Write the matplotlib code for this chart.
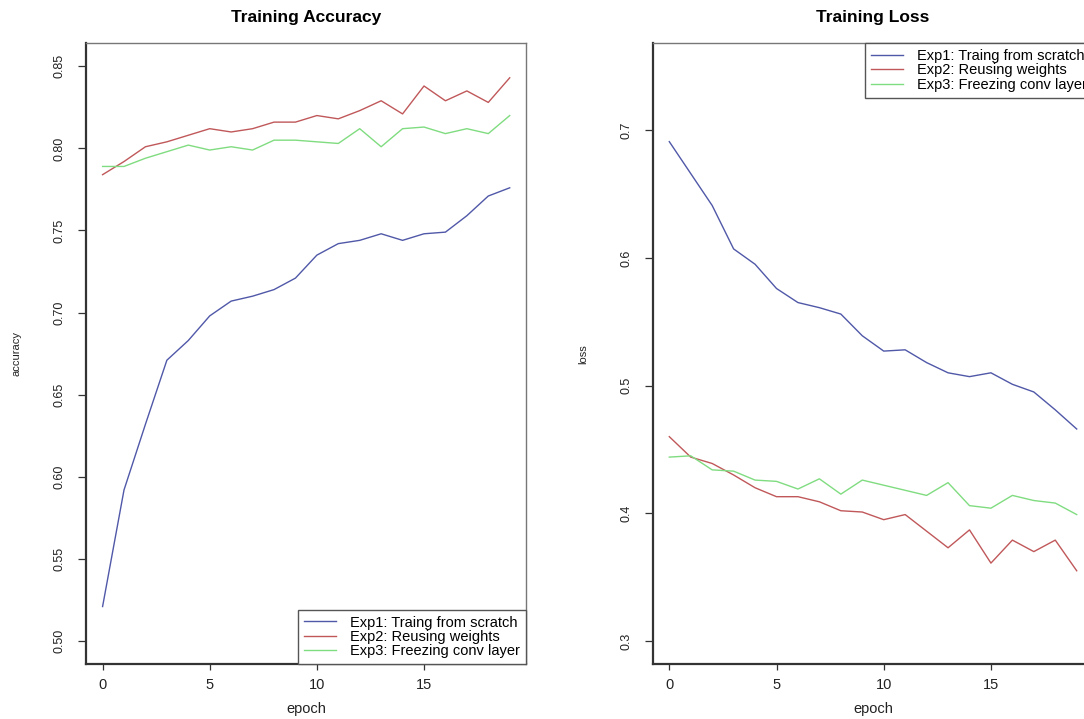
import matplotlib
matplotlib.use("Agg")
import matplotlib.pyplot as plt

plt.rcParams['font.family'] = ['Liberation Sans', 'DejaVu Sans']

# epochs 0..19
epochs = list(range(20))

series_labels = ["Exp1: Traing from scratch", "Exp2: Reusing weights", "Exp3: Freezing conv layer"]
series_colors = ["#5058a8", "#c0585a", "#80dc80"]

# training accuracy per experiment
acc_exp1 = [0.521, 0.592, 0.632, 0.671, 0.683, 0.698, 0.707, 0.710, 0.714, 0.721,
            0.735, 0.742, 0.744, 0.748, 0.744, 0.748, 0.749, 0.759, 0.771, 0.776]
acc_exp2 = [0.784, 0.792, 0.801, 0.804, 0.808, 0.812, 0.810, 0.812, 0.816, 0.816,
            0.820, 0.818, 0.823, 0.829, 0.821, 0.838, 0.829, 0.835, 0.828, 0.843]
acc_exp3 = [0.789, 0.789, 0.794, 0.798, 0.802, 0.799, 0.801, 0.799, 0.805, 0.805,
            0.804, 0.803, 0.812, 0.801, 0.812, 0.813, 0.809, 0.812, 0.809, 0.820]

# training loss per experiment
loss_exp1 = [0.691, 0.666, 0.641, 0.607, 0.595, 0.576, 0.565, 0.561, 0.556, 0.539,
             0.527, 0.528, 0.518, 0.510, 0.507, 0.510, 0.501, 0.495, 0.481, 0.466]
loss_exp2 = [0.460, 0.444, 0.439, 0.430, 0.420, 0.413, 0.413, 0.409, 0.402, 0.401,
             0.395, 0.399, 0.386, 0.373, 0.387, 0.361, 0.379, 0.370, 0.379, 0.355]
loss_exp3 = [0.444, 0.445, 0.434, 0.433, 0.426, 0.425, 0.419, 0.427, 0.415, 0.426,
             0.422, 0.418, 0.414, 0.424, 0.406, 0.404, 0.414, 0.410, 0.408, 0.399]

acc_ticks = [0.50, 0.55, 0.60, 0.65, 0.70, 0.75, 0.80, 0.85]
acc_ticklabels = ["0.50", "0.55", "0.60", "0.65", "0.70", "0.75", "0.80", "0.85"]
loss_ticks = [0.3, 0.4, 0.5, 0.6, 0.7]
loss_ticklabels = ["0.3", "0.4", "0.5", "0.6", "0.7"]
epoch_ticks = [0, 5, 10, 15]

W, H = 1084, 719
fig = plt.figure(figsize=(W / 100, H / 100), dpi=100)
fig.patch.set_facecolor("white")

# axes boxes in pixels (left, top, right, bottom); right panel runs past the crop
ax1 = fig.add_axes([86.3 / W, (H - 664) / H, (526 - 86.3) / W, (664 - 43.3) / H])
ax2 = fig.add_axes([653 / W, (H - 664) / H, (1093 - 653) / W, (664 - 43.3) / H])


def style_panel(ax, title, ylabel, yticks, yticklabels, ylim):
    ax.set_xlim(-0.76, 19.76)
    ax.set_ylim(*ylim)
    ax.set_xticks(epoch_ticks)
    ax.set_xticklabels([str(t) for t in epoch_ticks])
    ax.set_yticks(yticks)
    ax.set_yticklabels(yticklabels, rotation=90, va="center")
    ax.tick_params(axis="x", length=4.5, width=0.9, color="#333", pad=5.5,
                   labelsize=10.5, labelcolor="#222")
    ax.tick_params(axis="y", length=6, width=0.9, color="#333", pad=9,
                   labelsize=9, labelcolor="#222")
    for side in ["top", "right"]:
        ax.spines[side].set_color("#777")
        ax.spines[side].set_linewidth(1.0)
    for side in ["left", "bottom"]:
        ax.spines[side].set_color("#333")
        ax.spines[side].set_linewidth(1.6)
    ax.set_title(title, fontsize=12.5, fontweight="bold", pad=15)
    ax.set_xlabel("epoch", fontsize=10.5, color="#222")
    ax.xaxis.set_label_coords(0.5, -0.062)
    ax.set_ylabel(ylabel, fontsize=8, color="#222")
    ax.yaxis.set_label_coords(-0.148, 0.5)


acc_data = [acc_exp1, acc_exp2, acc_exp3]
for vals, lab, col in zip(acc_data, series_labels, series_colors):
    ax1.plot(epochs, vals, color=col, lw=1.0, label=lab)
style_panel(ax1, "Training Accuracy", "accuracy", acc_ticks, acc_ticklabels, (0.486, 0.864))

loss_data = [loss_exp1, loss_exp2, loss_exp3]
for vals, lab, col in zip(loss_data, series_labels, series_colors):
    ax2.plot(epochs, vals, color=col, lw=1.0, label=lab)
style_panel(ax2, "Training Loss", "loss", loss_ticks, loss_ticklabels, (0.282, 0.768))

leg_kw = dict(frameon=True, fancybox=False, edgecolor="#555", framealpha=1,
              borderaxespad=0, handlelength=2.2, handletextpad=1.0,
              labelspacing=0.02, fontsize=10.5, borderpad=0.4)
leg1 = ax1.legend(loc="lower right", **leg_kw)
leg2 = ax2.legend(loc="upper right", **leg_kw)
for leg in (leg1, leg2):
    leg.get_frame().set_linewidth(1.0)

fig.savefig("out.png", dpi=100)
